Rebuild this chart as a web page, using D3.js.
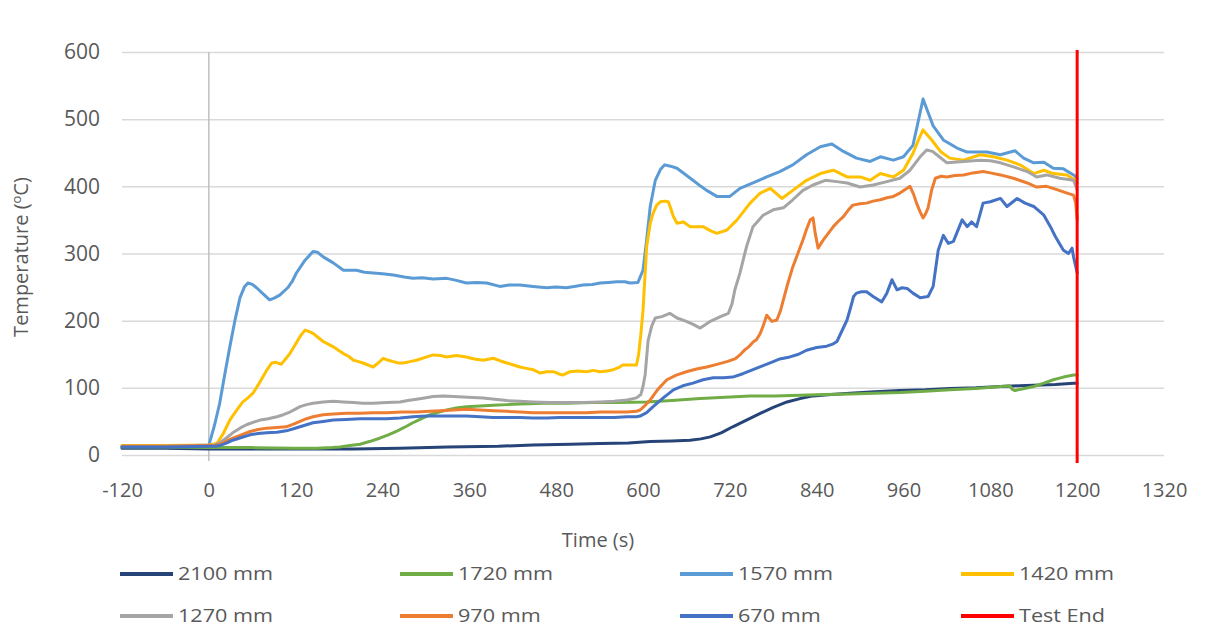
<!DOCTYPE html>
<html>
<head>
<meta charset="utf-8">
<script src="https://cdn.jsdelivr.net/npm/d3@7"></script>
<style>
  html, body { margin: 0; padding: 0; background: #fff; }
  svg { display: block; }
  text { font-family: "Open Sans", "Noto Sans", sans-serif; fill: #595959; }
</style>
</head>
<body>
<svg id="chart" width="1211" height="642"></svg>
<script>
// ---- data ----
const xTicks = [-120, 0, 120, 240, 360, 480, 600, 720, 840, 960, 1080, 1200, 1320];
const yTicks = [0, 100, 200, 300, 400, 500, 600];
const seriesNames = ["2100 mm", "1720 mm", "1570 mm", "1420 mm", "1270 mm", "970 mm", "670 mm"];
const testEndTime = 1200;
const testEndLabel = "Test End";

const s2100 = [[-120,10],[-60,10],[0,9],[60,9],[120,9],[200,9],[264,10],[330,12],[400,13],[448,15],[500,16],[541,17],[580,18],[610,20],[640,21],[665,22],[680,24],[693,27],[708,33],[724,42],[743,52],[762,62],[780,71],[799,79],[817,84],[835,88],[860,90],[886,92],[920,94],[955,96],[990,97],[1024,99],[1060,100],[1094,102],[1120,103],[1140,104],[1170,105],[1195,107],[1200,107]];
const s1720 = [[-120,12],[-60,12],[0,11],[60,11],[120,10],[149,10],[170,11],[181,12],[195,14],[209,16],[222,20],[236,25],[248,30],[259,35],[270,41],[282,48],[294,54],[306,60],[318,64],[329,67],[342,70],[356,72],[375,73],[393,74],[412,75],[430,76],[462,77],[494,77],[530,78],[564,78],[605,79],[640,81],[679,84],[714,86],[748,88],[782,88],[817,89],[851,90],[886,91],[920,92],[955,93],[990,95],[1024,97],[1060,99],[1094,102],[1107,103],[1110,98],[1114,96],[1127,99],[1140,102],[1154,107],[1167,112],[1181,116],[1195,119],[1200,119]];
const s1570 = [[-120,13],[-60,13],[0,15],[1,18],[8,45],[15,77],[22,120],[29,161],[36,200],[43,234],[49,250],[54,256],[60,254],[66,249],[75,240],[84,231],[91,234],[98,238],[109,249],[115,258],[121,271],[133,290],[144,303],[150,302],[158,295],[172,286],[186,275],[204,275],[215,272],[227,271],[240,270],[255,268],[270,265],[282,263],[295,264],[310,262],[329,263],[342,260],[356,256],[370,257],[384,256],[402,251],[415,253],[430,253],[448,251],[467,249],[480,250],[494,249],[505,251],[517,253],[530,254],[541,256],[552,257],[564,258],[575,258],[582,256],[593,257],[600,275],[605,320],[610,370],[617,409],[624,425],[630,432],[638,430],[647,427],[658,418],[669,409],[680,400],[688,394],[702,385],[720,385],[734,397],[752,405],[771,414],[789,422],[807,432],[826,447],[845,459],[861,463],[877,452],[895,442],[914,437],[928,444],[946,439],[960,444],[973,461],[980,495],[987,530],[994,510],[1001,490],[1015,469],[1034,457],[1048,451],[1075,451],[1094,447],[1114,453],[1126,442],[1140,435],[1154,436],[1167,427],[1181,426],[1195,417],[1200,412]];
const s1420 = [[-120,14],[-60,14],[0,15],[11,17],[20,32],[29,52],[38,66],[47,79],[54,85],[61,92],[68,104],[75,117],[81,128],[87,137],[93,138],[100,135],[106,143],[112,151],[121,167],[127,178],[133,186],[138,184],[144,181],[151,175],[158,169],[165,165],[172,161],[179,156],[186,151],[193,147],[200,141],[207,139],[213,137],[220,134],[227,131],[234,137],[241,144],[248,141],[255,139],[262,137],[269,137],[278,139],[287,141],[298,145],[310,149],[320,148],[329,146],[342,148],[356,146],[367,143],[379,141],[393,144],[403,140],[412,137],[421,134],[430,131],[439,129],[448,127],[458,122],[467,124],[476,124],[483,121],[489,119],[499,124],[510,125],[522,124],[531,126],[541,124],[550,125],[559,127],[566,130],[572,134],[582,134],[591,134],[594,150],[597,180],[600,215],[605,310],[610,345],[614,360],[619,372],[624,377],[630,378],[635,377],[638,368],[642,355],[647,345],[656,347],[665,340],[674,340],[683,340],[693,334],[702,330],[716,335],[730,350],[748,375],[762,390],[776,397],[792,382],[807,394],[826,409],[845,419],[863,424],[882,414],[900,414],[914,409],[928,419],[946,414],[960,424],[973,449],[981,470],[987,484],[999,469],[1011,452],[1024,442],[1043,439],[1066,447],[1084,444],[1103,439],[1121,432],[1140,419],[1154,424],[1167,419],[1186,417],[1197,409],[1200,405]];
const s1270 = [[-120,13],[-60,13],[0,14],[8,15],[15,18],[25,26],[33,33],[43,40],[52,45],[62,49],[71,52],[82,54],[94,57],[103,60],[112,64],[119,68],[126,72],[135,75],[144,77],[158,79],[172,80],[186,79],[200,78],[213,77],[227,77],[246,78],[264,79],[275,81],[287,83],[298,85],[310,87],[324,88],[338,87],[358,86],[379,85],[395,83],[412,81],[430,80],[448,79],[470,78],[494,78],[518,78],[541,79],[560,80],[578,82],[591,85],[597,90],[600,102],[603,120],[607,170],[612,192],[617,204],[626,206],[637,211],[647,204],[660,199],[670,194],[679,189],[686,194],[693,199],[707,206],[718,211],[723,225],[727,246],[734,271],[743,310],[752,340],[766,357],[780,365],[794,368],[807,380],[821,394],[835,402],[852,409],[868,407],[882,405],[900,399],[918,402],[937,407],[955,412],[969,424],[983,444],[992,454],[1000,452],[1006,447],[1020,435],[1043,437],[1066,439],[1080,438],[1094,435],[1112,429],[1131,422],[1144,414],[1158,417],[1176,412],[1195,409],[1200,395]];
const s970 = [[-120,13],[-60,13],[0,14],[8,14],[15,16],[25,21],[33,25],[45,30],[57,35],[68,38],[80,40],[94,41],[107,42],[117,46],[126,50],[135,54],[144,57],[158,60],[172,61],[190,62],[209,62],[227,63],[246,63],[266,64],[287,64],[305,65],[320,66],[338,67],[356,68],[375,67],[393,66],[412,65],[430,64],[448,63],[467,63],[485,63],[503,63],[522,63],[541,64],[560,64],[578,64],[591,65],[596,67],[603,74],[610,82],[620,97],[633,112],[646,119],[660,124],[674,128],[688,131],[702,135],[716,139],[727,143],[734,149],[740,156],[746,161],[752,168],[757,172],[762,181],[766,192],[771,208],[775,203],[778,199],[785,201],[790,215],[794,231],[800,255],[807,280],[814,300],[821,320],[826,336],[831,350],[835,353],[838,330],[842,308],[846,315],[849,320],[856,330],[863,340],[870,348],[877,355],[884,365],[890,372],[900,374],[909,375],[918,378],[928,380],[937,383],[946,385],[955,390],[965,397],[969,400],[974,388],[978,375],[983,362],[987,353],[990,358],[994,368],[999,395],[1004,412],[1012,415],[1020,414],[1031,416],[1043,417],[1056,420],[1070,422],[1080,420],[1094,417],[1112,412],[1131,405],[1144,399],[1158,400],[1172,395],[1186,390],[1195,387],[1198,375],[1200,350]];
const s670 = [[-120,12],[-60,12],[0,13],[8,13],[15,14],[25,18],[33,22],[45,26],[57,30],[68,32],[80,33],[94,34],[107,36],[117,39],[126,42],[135,45],[144,48],[158,50],[172,52],[190,53],[209,54],[227,54],[246,54],[264,55],[282,57],[300,58],[320,58],[338,58],[356,58],[375,57],[393,56],[412,56],[430,56],[448,55],[467,55],[485,56],[503,56],[522,56],[541,56],[560,56],[578,57],[591,57],[596,58],[605,63],[614,72],[628,85],[642,97],[655,103],[669,107],[683,112],[697,115],[711,115],[724,116],[738,121],[752,127],[766,133],[780,139],[789,143],[803,146],[815,150],[826,156],[840,160],[854,162],[862,165],[868,169],[875,185],[882,201],[887,220],[891,236],[895,241],[902,243],[909,243],[918,236],[924,232],[930,228],[937,241],[944,261],[951,246],[958,249],[965,248],[973,241],[983,234],[994,236],[1001,251],[1008,305],[1015,327],[1022,315],[1029,318],[1041,350],[1048,340],[1054,347],[1061,340],[1070,375],[1080,377],[1094,382],[1103,370],[1117,382],[1128,375],[1140,370],[1154,357],[1163,340],[1170,325],[1181,305],[1188,300],[1193,308],[1195,295],[1200,271]];

const seriesData = [s2100, s1720, s1570, s1420, s1270, s970, s670];
const seriesColors = ["#264478", "#70AD47", "#5B9BD5", "#FFC000", "#A5A5A5", "#ED7D31", "#4472C4"];
const testEndColor = "#FF0000";

// ---- layout ----
const svg = d3.select("#chart");
const x = d3.scaleLinear().domain([-120, 1320]).range([122, 1164]);
const y = d3.scaleLinear().domain([0, 600]).range([455, 52]);

// gridlines + y labels
const yAxis = d3.axisLeft(y).tickValues(yTicks).tickFormat(d => String(d))
  .tickSize(-(x.range()[1] - x.range()[0]));
const gy = svg.append("g").attr("transform", `translate(${x.range()[0]},0)`).call(yAxis);
gy.select(".domain").remove();
gy.selectAll(".tick line").attr("stroke", "#D9D9D9").attr("stroke-width", 1.5);
gy.selectAll(".tick text").attr("x", -22).attr("font-size", 21).attr("fill", "#595959")
  .style("font-family", '"Open Sans", sans-serif');

// x labels
const xAxis = d3.axisBottom(x).tickValues(xTicks).tickFormat(d => String(d)).tickSize(0);
const gx = svg.append("g").attr("transform", `translate(0,${y(0)})`).call(xAxis);
gx.select(".domain").remove();
gx.selectAll(".tick text").attr("y", 42).attr("dy", 0).attr("font-size", 20).attr("fill", "#595959")
  .style("font-family", '"Open Sans", sans-serif');

// vertical axis line at t = 0
svg.append("line")
  .attr("x1", x(0)).attr("x2", x(0))
  .attr("y1", y(600)).attr("y2", y(0) + 6)
  .attr("stroke", "#BFBFBF").attr("stroke-width", 1.5);

// series lines
const line = d3.line().x(d => x(d[0])).y(d => y(d[1]));
seriesData.forEach((s, i) => {
  svg.append("path")
    .datum(s)
    .attr("fill", "none")
    .attr("stroke", seriesColors[i])
    .attr("stroke-width", 3)
    .attr("stroke-linejoin", "round")
    .attr("stroke-linecap", "round")
    .attr("d", line);
});

// test end line
svg.append("line")
  .attr("x1", x(testEndTime)).attr("x2", x(testEndTime))
  .attr("y1", y(600) - 2).attr("y2", y(0) + 8)
  .attr("stroke", testEndColor).attr("stroke-width", 3);

// axis titles
svg.append("text")
  .attr("x", 598).attr("y", 547)
  .attr("text-anchor", "middle")
  .attr("font-size", 20)
  .text("Time (s)");

const yt = svg.append("text")
  .attr("transform", "translate(28,257) rotate(-90)")
  .attr("text-anchor", "middle")
  .attr("font-size", 20);
yt.append("tspan").text("Temperature (");
yt.append("tspan").attr("font-size", 13).attr("dy", -7).text("o");
yt.append("tspan").attr("dy", 7).text("C)");

// legend
const legendLabels = seriesNames.concat([testEndLabel]);
const legendColors = seriesColors.concat([testEndColor]);
const colX = [120, 400, 680, 961];
const rowY = [574, 616];
legendLabels.forEach((lab, i) => {
  const cx = colX[i % 4], cy = rowY[Math.floor(i / 4)];
  svg.append("line")
    .attr("x1", cx).attr("x2", cx + 53)
    .attr("y1", cy).attr("y2", cy)
    .attr("stroke", legendColors[i]).attr("stroke-width", 4);
  svg.append("text")
    .attr("transform", `translate(${cx + 58},${cy}) scale(1.2,1)`)
    .attr("dy", "0.35em")
    .attr("font-size", 18)
    .text(lab);
});
</script>
</body>
</html>
